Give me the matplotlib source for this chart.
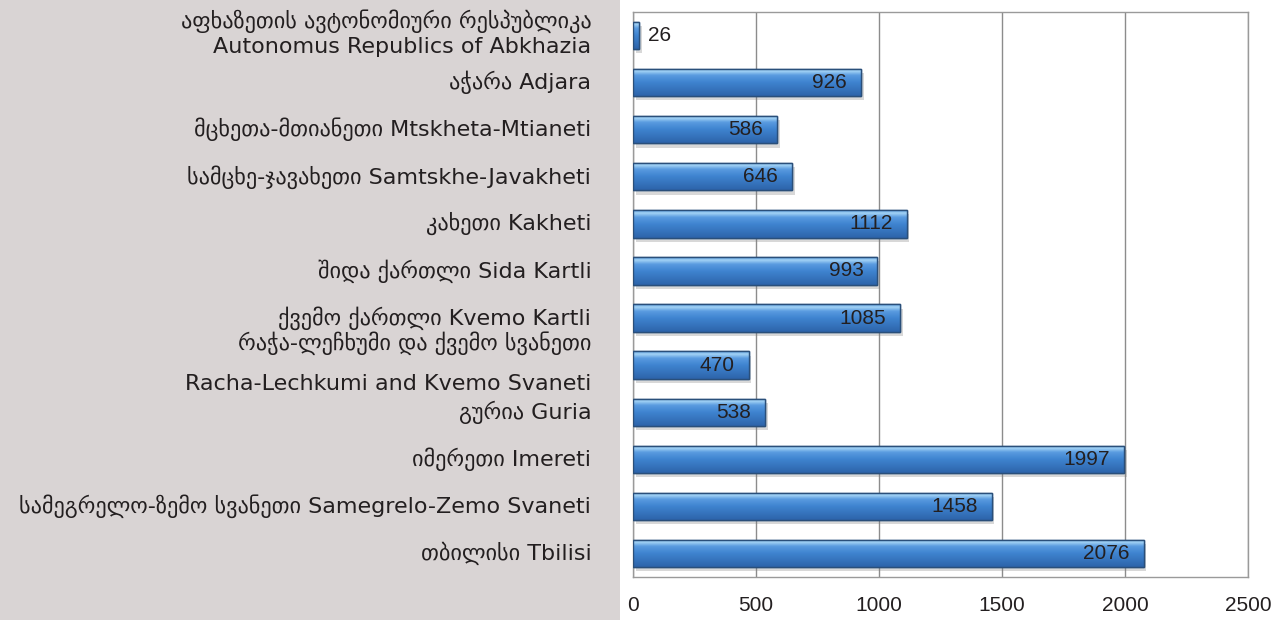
import numpy as np
import matplotlib
matplotlib.use("Agg")
import matplotlib.pyplot as plt
import matplotlib.transforms as mtransforms
from matplotlib.patches import Rectangle
from matplotlib.colors import LinearSegmentedColormap

regions_ka = ["აფხაზეთის ავტონომიური რესპუბლიკა", "აჭარა", "მცხეთა-მთიანეთი",
              "სამცხე-ჯავახეთი", "კახეთი", "შიდა ქართლი", "ქვემო ქართლი",
              "რაჭა-ლეჩხუმი და ქვემო სვანეთი", "გურია", "იმერეთი",
              "სამეგრელო-ზემო სვანეთი", "თბილისი"]
regions_en = ["Autonomus Republics of Abkhazia", "Adjara", "Mtskheta-Mtianeti",
              "Samtskhe-Javakheti", "Kakheti", "Sida Kartli", "Kvemo Kartli",
              "Racha-Lechkumi and Kvemo Svaneti", "Guria", "Imereti",
              "Samegrelo-Zemo Svaneti", "Tbilisi"]
two_line = [True, False, False, False, False, False, False, True, False, False, False, False]
values = [26, 926, 586, 646, 1112, 993, 1085, 470, 538, 1997, 1458, 2076]
xticks = [0, 500, 1000, 1500, 2000, 2500]

label_font = ["DejaVu Sans Condensed", "DejaVu Sans"]
num_font = ["Liberation Sans", "DejaVu Sans"]
txt_col = "#231f20"

fig = plt.figure(figsize=(12.87, 6.20), dpi=100)
fig.patch.set_facecolor("white")
fig.patches.append(Rectangle((0, 0), 620 / 1287, 1, transform=fig.transFigure,
                             facecolor="#d9d4d4", edgecolor="none", zorder=-1))

ax = fig.add_axes([633 / 1287, 43 / 620, (1248 - 633) / 1287, (577 - 12) / 620])
ax.set_facecolor("white")

y = np.arange(len(values))
h = 0.58

# shadow
shadow_tr = ax.transData + mtransforms.ScaledTranslation(2.0 / 72, -3.0 / 72, fig.dpi_scale_trans)
ax.barh(y, values, height=h, color="#7f7f7f", alpha=0.3, edgecolor="none",
        transform=shadow_tr, zorder=2)

bars = ax.barh(y, values, height=h, color="#3d7fcf", edgecolor="#24507f",
               linewidth=1.0, zorder=3)

cmap = LinearSegmentedColormap.from_list(
    "bar", [(0.0, "#5c9ee0"), (0.1, "#a3d3f5"), (0.25, "#5a9be0"),
            (0.5, "#3f84d0"), (1.0, "#2d64aa")])
grad = np.linspace(0, 1, 64).reshape(-1, 1)
for b in bars:
    x0, y0 = b.get_x(), b.get_y()
    w, hh = b.get_width(), b.get_height()
    im = ax.imshow(grad, cmap=cmap, aspect="auto", origin="lower",
                   extent=(x0, x0 + w, y0, y0 + hh), zorder=3.5,
                   interpolation="bilinear")
    im.set_clip_path(b)
    ax.add_patch(Rectangle((x0, y0), w, hh, facecolor="none",
                           edgecolor="#2a4f7a", linewidth=1.0, zorder=4))

ax.set_xlim(0, 2500)
ax.set_ylim(len(values) - 0.5, -0.5)
ax.set_xticks(xticks)
ax.set_xticklabels([str(t) for t in xticks], fontsize=15, family=num_font, color=txt_col)
ax.tick_params(axis="x", length=0, pad=14)
ax.set_yticks([])
ax.grid(axis="x", color="#8c8c8c", linewidth=1.0, zorder=1)
ax.set_axisbelow(True)
for s in ax.spines.values():
    s.set_color("#9a9a9a")
    s.set_linewidth(1.0)

# value labels
for i, v in enumerate(values):
    if v < 200:
        ax.annotate(str(v), xy=(v, i), xytext=(6, 0), textcoords="offset points",
                    ha="left", va="center", fontsize=15, family=num_font,
                    color=txt_col, zorder=6)
    else:
        ax.annotate(str(v), xy=(v, i), xytext=(-10, 0), textcoords="offset points",
                    ha="right", va="center", fontsize=15, family=num_font,
                    color=txt_col, zorder=6)

# category labels
ytr = mtransforms.blended_transform_factory(ax.transAxes, ax.transData)
fs = 16
for i, (ka, en) in enumerate(zip(regions_ka, regions_en)):
    if two_line[i]:
        if i == 0:
            offs = (10.5, -8)
        else:
            offs = (15.5, -13.5)
        ax.annotate(ka, xy=(0, i), xycoords=ytr, xytext=(-30, offs[0]),
                    textcoords="offset points", ha="right", va="center",
                    fontsize=fs, family=label_font, color=txt_col, annotation_clip=False)
        ax.annotate(en, xy=(0, i), xycoords=ytr, xytext=(-30, offs[1]),
                    textcoords="offset points", ha="right", va="center",
                    fontsize=fs, family=label_font, color=txt_col, annotation_clip=False)
    else:
        ax.annotate(ka + " " + en, xy=(0, i), xycoords=ytr, xytext=(-30, 0),
                    textcoords="offset points", ha="right", va="center",
                    fontsize=fs, family=label_font, color=txt_col, annotation_clip=False)

fig.savefig("out.png", dpi=100)
